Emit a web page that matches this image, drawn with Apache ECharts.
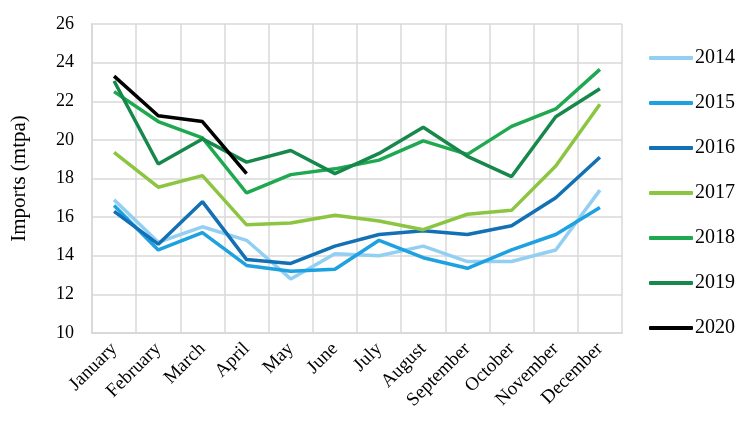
<!DOCTYPE html>
<html><head><meta charset="utf-8">
<script src="https://cdn.jsdelivr.net/npm/echarts@6/dist/echarts.min.js"></script>
<style>html,body{margin:0;padding:0;background:#fff}#c{width:745px;height:447px}</style>
</head><body><div id="c"></div>
<script>
const months = ['January','February','March','April','May','June','July','August','September','October','November','December'];
const years = ['2014','2015','2016','2017','2018','2019','2020'];
const y2014 = [16.9,14.7,15.5,14.8,12.8,14.1,14.0,14.5,13.7,13.7,14.3,17.4];
const y2015 = [16.6,14.3,15.2,13.5,13.2,13.3,14.8,13.9,13.35,14.3,15.1,16.5];
const y2016 = [16.3,14.6,16.8,13.8,13.6,14.5,15.1,15.3,15.1,15.55,17.0,19.1];
const y2017 = [19.35,17.55,18.15,15.6,15.7,16.1,15.8,15.35,16.15,16.35,18.65,21.85];
const y2018 = [22.5,20.95,20.1,17.25,18.2,18.5,18.95,19.95,19.25,20.7,21.6,23.65];
const y2019 = [23.05,18.75,20.05,18.85,19.45,18.25,19.3,20.65,19.15,18.1,21.2,22.65];
const y2020 = [23.3,21.25,20.95,18.25];
const yTicks = {min:10, max:26, interval:2};
const colors = ['#93cff2','#1da1e0','#1270b5','#8cc540','#1ea850','#17884b','#000000'];
const dataSets = [y2014,y2015,y2016,y2017,y2018,y2019,y2020];
const font = '"Liberation Serif", "DejaVu Serif", serif';
const chart = echarts.init(document.getElementById('c'));
chart.setOption({
  animation:false,
  color: colors,
  grid:{left:92,right:123,top:24,bottom:114},
  legend:{
    orient:'vertical', left:644, top:43,
    icon:'roundRect', itemWidth:44, itemHeight:4, itemGap:25,
    textStyle:{fontFamily:font, fontSize:20, color:'#000', padding:[0,0,0,-3]},
    data: years
  },
  xAxis:{
    type:'category', data:months, boundaryGap:true,
    axisLine:{lineStyle:{color:'#d9d9d9',width:2}},
    axisTick:{show:false},
    splitLine:{show:true, lineStyle:{color:'#d9d9d9',width:1.5}},
    axisLabel:{rotate:45, interval:0, fontFamily:font, fontSize:19, color:'#000', margin:13}
  },
  yAxis:{
    type:'value', min:yTicks.min, max:yTicks.max, interval:yTicks.interval,
    name:'Imports (mtpa)', nameLocation:'middle', nameGap:62,
    nameTextStyle:{fontFamily:font, fontSize:21, color:'#000'},
    axisLine:{show:true, lineStyle:{color:'#d9d9d9',width:2}},
    axisTick:{show:false},
    splitLine:{lineStyle:{color:'#d9d9d9',width:1.5}},
    axisLabel:{fontFamily:font, fontSize:18, color:'#000', margin:18}
  },
  series: years.map((y,i)=>({
    name:y, type:'line', data:dataSets[i], showSymbol:false, symbol:'none',
    lineStyle:{width:3.5, color:colors[i]}, itemStyle:{color:colors[i]}
  }))
});
</script></body></html>
